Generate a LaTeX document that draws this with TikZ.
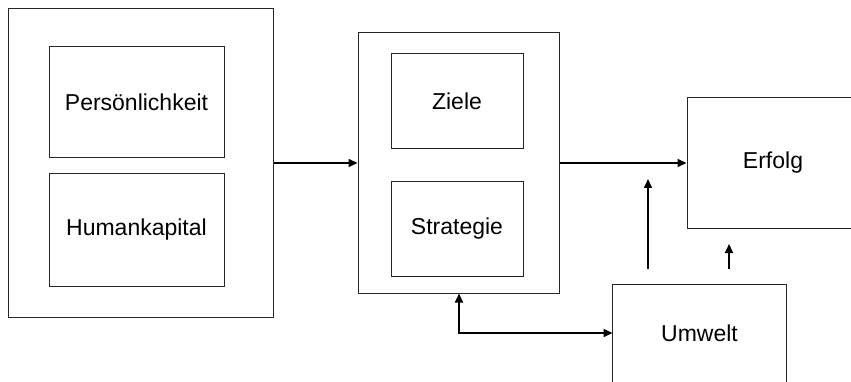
\documentclass[tikz,border=0pt]{standalone}
\usepackage{fontspec}
\setmainfont{Liberation Sans}
\usetikzlibrary{arrows.meta}
\begin{document}
\begin{tikzpicture}[x=1pt,y=-1pt,
  box/.style={draw=black!85, line width=1pt, rectangle, inner sep=0pt,
    font=\fontsize{23}{27}\selectfont},
  arr/.style={line width=2pt, -{Triangle[length=9pt,width=8pt]}},
  dblarr/.style={line width=2pt, {Triangle[length=9pt,width=8pt]}-{Triangle[length=9pt,width=8pt]}}]
\useasboundingbox (0,0) rectangle (851,382);
\clip (0,0) rectangle (851,382);
\fill[white] (0,0) rectangle (851,382);

% person group
\node[box, minimum width=265pt, minimum height=308pt] (person) at (140.5,163) {};
\node[box, minimum width=175pt, minimum height=111pt] (pers) at (136.5,102.5) {Persönlichkeit};
\node[box, minimum width=175pt, minimum height=112pt] (human) at (136.5,230) {Humankapital};

% goals and strategy group
\node[box, minimum width=201pt, minimum height=260pt] (plan) at (458.5,163) {};
\node[box, minimum width=132pt, minimum height=95pt] (ziele) at (457,101.5) {Ziele};
\node[box, minimum width=132pt, minimum height=94pt] (strat) at (457,229) {Strategie};

% outcome, open to the right edge
\node[box, minimum width=172pt, minimum height=130pt] (erfolg) at (773,163) {Erfolg};

% environment, open to the bottom edge
\node[box, draw=none, minimum width=173pt, minimum height=96pt] (umwelt) at (699.5,333) {Umwelt};
\draw[black!85, line width=1pt] (umwelt.south west) ++(0,30) |- (umwelt.north east) -- ++(0,130);

% connectors
\draw[arr] (person.east) -- (plan.west);
\draw[arr] (plan.east) -- (erfolg.west);
\coordinate (e1s) at (648,269);
\coordinate (e1t) at (648,179);
\coordinate (e2s) at (729,269);
\coordinate (e2t) at (729,244);
\draw[arr] (e1s) -- (e1t);
\draw[arr] (e2s) -- (e2t);
\draw[dblarr] (plan.south -| 459,0) |- (umwelt.west);
\end{tikzpicture}
\end{document}
